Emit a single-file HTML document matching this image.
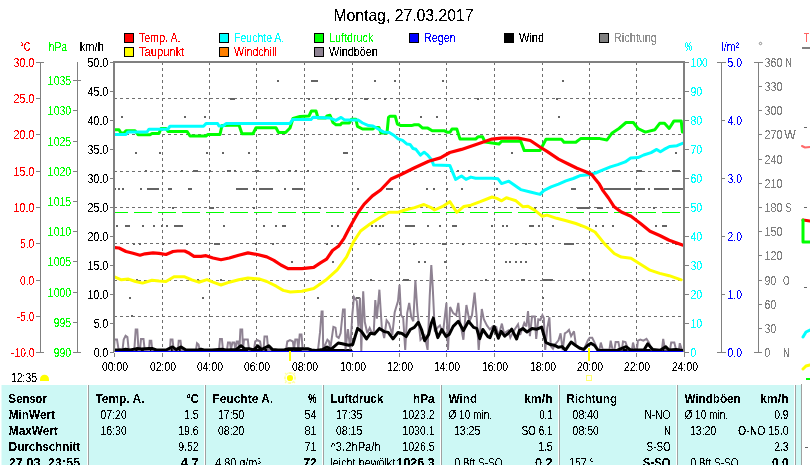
<!DOCTYPE html>
<html><head><meta charset="utf-8"><style>
html,body{margin:0;padding:0;background:#fff;overflow:hidden;width:810px;height:465px}
svg{display:block}
text{font-family:"Liberation Sans", sans-serif}
</style></head><body>
<svg width="810" height="465" viewBox="0 0 810 465">
<defs><filter id="bin" x="0" y="0" width="810" height="465" filterUnits="userSpaceOnUse"><feComponentTransfer><feFuncA type="discrete" tableValues="0 0 0 0 0 0 0 0 0 1 1 1 1 1 1 1 1 1 1 1"/></feComponentTransfer></filter><clipPath id="plotclip"><rect x="115" y="63" width="568" height="289"/></clipPath></defs>
<rect width="810" height="465" fill="#fff"/>
<text filter="url(#bin)" x="333.5" y="21.0" font-size="16.5" fill="#000" textLength="140.0" lengthAdjust="spacingAndGlyphs">Montag, 27.03.2017</text>
<rect x="124.5" y="33.5" width="9" height="9" fill="#ff0000" stroke="#000" stroke-width="1"/>
<text filter="url(#bin)" x="139.0" y="42.0" font-size="12.5" fill="#ff0000" textLength="41.5" lengthAdjust="spacingAndGlyphs">Temp. A.</text>
<rect x="219.5" y="33.5" width="9" height="9" fill="#00ffff" stroke="#000" stroke-width="1"/>
<text filter="url(#bin)" x="234.0" y="42.0" font-size="12.5" fill="#00ffff" textLength="50.3" lengthAdjust="spacingAndGlyphs">Feuchte A.</text>
<rect x="314.5" y="33.5" width="9" height="9" fill="#00ff00" stroke="#000" stroke-width="1"/>
<text filter="url(#bin)" x="329.0" y="42.0" font-size="12.5" fill="#00ff00" textLength="44.3" lengthAdjust="spacingAndGlyphs">Luftdruck</text>
<rect x="409.5" y="33.5" width="9" height="9" fill="#0000ff" stroke="#000" stroke-width="1"/>
<text filter="url(#bin)" x="424.0" y="42.0" font-size="12.5" fill="#0000ff" textLength="31.8" lengthAdjust="spacingAndGlyphs">Regen</text>
<rect x="504.5" y="33.5" width="9" height="9" fill="#000" stroke="#000" stroke-width="1"/>
<text filter="url(#bin)" x="519.0" y="42.0" font-size="12.5" fill="#000" textLength="25.1" lengthAdjust="spacingAndGlyphs">Wind</text>
<rect x="599.5" y="33.5" width="9" height="9" fill="#808080" stroke="#000" stroke-width="1"/>
<text filter="url(#bin)" x="614.0" y="42.0" font-size="12.5" fill="#909090" textLength="42.9" lengthAdjust="spacingAndGlyphs">Richtung</text>
<rect x="124.5" y="47.5" width="9" height="9" fill="#ffff00" stroke="#000" stroke-width="1"/>
<text filter="url(#bin)" x="139.0" y="56.0" font-size="12.5" fill="#ff0000" textLength="45.4" lengthAdjust="spacingAndGlyphs">Taupunkt</text>
<rect x="219.5" y="47.5" width="9" height="9" fill="#ff8000" stroke="#000" stroke-width="1"/>
<text filter="url(#bin)" x="234.0" y="56.0" font-size="12.5" fill="#ff0000" textLength="42.7" lengthAdjust="spacingAndGlyphs">Windchill</text>
<rect x="314.5" y="47.5" width="9" height="9" fill="#8e8292" stroke="#000" stroke-width="1"/>
<text filter="url(#bin)" x="329.0" y="56.0" font-size="12.5" fill="#000" textLength="48.9" lengthAdjust="spacingAndGlyphs">Windböen</text>
<text filter="url(#bin)" x="20.0" y="51.0" font-size="12.5" fill="#ff0000" textLength="10.4" lengthAdjust="spacingAndGlyphs">°C</text>
<text filter="url(#bin)" x="48.7" y="51.0" font-size="12.5" fill="#00ff00" textLength="18.4" lengthAdjust="spacingAndGlyphs">hPa</text>
<text filter="url(#bin)" x="79.8" y="51.0" font-size="12.5" fill="#000" textLength="24.1" lengthAdjust="spacingAndGlyphs">km/h</text>
<text filter="url(#bin)" x="684.8" y="51.0" font-size="13.5" fill="#00ffff" textLength="7.4" lengthAdjust="spacingAndGlyphs">%</text>
<text filter="url(#bin)" x="721.5" y="51.0" font-size="12.5" fill="#0000ff" textLength="17.8" lengthAdjust="spacingAndGlyphs">l/m²</text>
<circle cx="760.5" cy="43.5" r="1.2" fill="none" stroke="#808080" stroke-width="0.9"/>
<g stroke="#6e6e6e" stroke-width="1" shape-rendering="crispEdges">
<line x1="114" y1="98.5" x2="683" y2="98.5" stroke-dasharray="3 3"/>
<line x1="114" y1="134.5" x2="683" y2="134.5" stroke-dasharray="3 3"/>
<line x1="114" y1="171.5" x2="683" y2="171.5" stroke-dasharray="3 3"/>
<line x1="114" y1="207.5" x2="683" y2="207.5" stroke-dasharray="3 3"/>
<line x1="114" y1="243.5" x2="683" y2="243.5" stroke-dasharray="3 3"/>
<line x1="114" y1="280.5" x2="683" y2="280.5" stroke-dasharray="3 3"/>
<line x1="114" y1="316.5" x2="683" y2="316.5" stroke-dasharray="3 3"/>
<line x1="162.5" y1="62" x2="162.5" y2="352" stroke-dasharray="3 3"/>
<line x1="209.5" y1="62" x2="209.5" y2="352" stroke-dasharray="3 3"/>
<line x1="256.5" y1="62" x2="256.5" y2="352" stroke-dasharray="3 3"/>
<line x1="304.5" y1="62" x2="304.5" y2="352" stroke-dasharray="3 3"/>
<line x1="352.5" y1="62" x2="352.5" y2="352" stroke-dasharray="3 3"/>
<line x1="399.5" y1="62" x2="399.5" y2="352" stroke-dasharray="3 3"/>
<line x1="446.5" y1="62" x2="446.5" y2="352" stroke-dasharray="3 3"/>
<line x1="494.5" y1="62" x2="494.5" y2="352" stroke-dasharray="3 3"/>
<line x1="542.5" y1="62" x2="542.5" y2="352" stroke-dasharray="3 3"/>
<line x1="589.5" y1="62" x2="589.5" y2="352" stroke-dasharray="3 3"/>
<line x1="636.5" y1="62" x2="636.5" y2="352" stroke-dasharray="3 3"/>
</g>
<line x1="110" y1="212.5" x2="683" y2="212.5" stroke="#00ff00" stroke-width="1" stroke-dasharray="18 6" shape-rendering="crispEdges" clip-path="url(#plotclip)"/>
<g fill="#646464" clip-path="url(#plotclip)">
<rect x="277" y="80" width="2" height="2" fill="#646464"/>
<rect x="311" y="80" width="7" height="2" fill="#646464"/>
<rect x="374" y="80" width="2" height="2" fill="#646464"/>
<rect x="394" y="80" width="2" height="2" fill="#646464"/>
<rect x="442" y="80" width="2" height="2" fill="#646464"/>
<rect x="562" y="80" width="2" height="2" fill="#646464"/>
<rect x="230" y="98" width="5" height="2" fill="#646464"/>
<rect x="308" y="98" width="2" height="2" fill="#646464"/>
<rect x="335" y="98" width="2" height="2" fill="#646464"/>
<rect x="348" y="98" width="2" height="2" fill="#646464"/>
<rect x="364" y="98" width="4" height="2" fill="#646464"/>
<rect x="384" y="98" width="2" height="2" fill="#646464"/>
<rect x="477" y="98" width="2" height="2" fill="#646464"/>
<rect x="556" y="98" width="2" height="2" fill="#646464"/>
<rect x="121" y="116" width="2" height="2" fill="#646464"/>
<rect x="184" y="116" width="2" height="2" fill="#646464"/>
<rect x="204" y="116" width="2" height="2" fill="#646464"/>
<rect x="420" y="116" width="2" height="2" fill="#646464"/>
<rect x="436" y="116" width="2" height="2" fill="#646464"/>
<rect x="558" y="116" width="2" height="2" fill="#646464"/>
<rect x="135" y="152" width="2" height="2" fill="#646464"/>
<rect x="159" y="152" width="2" height="2" fill="#646464"/>
<rect x="206" y="152" width="2" height="2" fill="#646464"/>
<rect x="222" y="152" width="2" height="2" fill="#646464"/>
<rect x="248" y="152" width="2" height="2" fill="#646464"/>
<rect x="343" y="152" width="5" height="2" fill="#646464"/>
<rect x="511" y="152" width="2" height="2" fill="#646464"/>
<rect x="675" y="152" width="2" height="2" fill="#646464"/>
<rect x="145" y="170" width="2" height="2" fill="#646464"/>
<rect x="162" y="170" width="2" height="2" fill="#646464"/>
<rect x="181" y="170" width="2" height="2" fill="#646464"/>
<rect x="193" y="170" width="5" height="2" fill="#646464"/>
<rect x="209" y="170" width="2" height="2" fill="#646464"/>
<rect x="227" y="170" width="4" height="2" fill="#646464"/>
<rect x="234" y="170" width="2" height="2" fill="#646464"/>
<rect x="255" y="170" width="4" height="2" fill="#646464"/>
<rect x="278" y="170" width="2" height="2" fill="#646464"/>
<rect x="288" y="170" width="3" height="2" fill="#646464"/>
<rect x="295" y="170" width="2" height="2" fill="#646464"/>
<rect x="307" y="170" width="2" height="2" fill="#646464"/>
<rect x="457" y="170" width="2" height="2" fill="#646464"/>
<rect x="468" y="170" width="2" height="2" fill="#646464"/>
<rect x="637" y="170" width="5" height="2" fill="#646464"/>
<rect x="672" y="170" width="8" height="2" fill="#646464"/>
<rect x="114" y="188" width="2" height="2" fill="#646464"/>
<rect x="118" y="188" width="2" height="2" fill="#646464"/>
<rect x="122" y="188" width="2" height="2" fill="#646464"/>
<rect x="140" y="188" width="2" height="2" fill="#646464"/>
<rect x="147" y="188" width="12" height="2" fill="#646464"/>
<rect x="168" y="188" width="4" height="2" fill="#646464"/>
<rect x="188" y="188" width="4" height="2" fill="#646464"/>
<rect x="236" y="188" width="12" height="2" fill="#646464"/>
<rect x="253" y="188" width="2" height="2" fill="#646464"/>
<rect x="259" y="188" width="14" height="2" fill="#646464"/>
<rect x="284" y="188" width="2" height="2" fill="#646464"/>
<rect x="292" y="188" width="11" height="2" fill="#646464"/>
<rect x="357" y="188" width="2" height="2" fill="#646464"/>
<rect x="386" y="188" width="7" height="2" fill="#646464"/>
<rect x="426" y="188" width="2" height="2" fill="#646464"/>
<rect x="433" y="188" width="2" height="2" fill="#646464"/>
<rect x="446" y="188" width="2" height="2" fill="#646464"/>
<rect x="461" y="188" width="2" height="2" fill="#646464"/>
<rect x="496" y="188" width="2" height="2" fill="#646464"/>
<rect x="571" y="188" width="5" height="2" fill="#646464"/>
<rect x="590" y="188" width="3" height="2" fill="#646464"/>
<rect x="604" y="188" width="27" height="2" fill="#646464"/>
<rect x="634" y="188" width="11" height="2" fill="#646464"/>
<rect x="648" y="188" width="2" height="2" fill="#646464"/>
<rect x="654" y="188" width="15" height="2" fill="#646464"/>
<rect x="672" y="188" width="11" height="2" fill="#646464"/>
<rect x="172" y="207" width="2" height="2" fill="#646464"/>
<rect x="209" y="207" width="5" height="2" fill="#646464"/>
<rect x="253" y="207" width="2" height="2" fill="#646464"/>
<rect x="319" y="207" width="2" height="2" fill="#646464"/>
<rect x="534" y="207" width="2" height="2" fill="#646464"/>
<rect x="577" y="207" width="12" height="2" fill="#646464"/>
<rect x="597" y="207" width="6" height="2" fill="#646464"/>
<rect x="653" y="207" width="2" height="2" fill="#646464"/>
<rect x="116" y="225" width="2" height="2" fill="#646464"/>
<rect x="125" y="225" width="5" height="2" fill="#646464"/>
<rect x="142" y="225" width="2" height="2" fill="#646464"/>
<rect x="153" y="225" width="2" height="2" fill="#646464"/>
<rect x="161" y="225" width="2" height="2" fill="#646464"/>
<rect x="166" y="225" width="2" height="2" fill="#646464"/>
<rect x="174" y="225" width="9" height="2" fill="#646464"/>
<rect x="223" y="225" width="2" height="2" fill="#646464"/>
<rect x="263" y="225" width="2" height="2" fill="#646464"/>
<rect x="275" y="225" width="2" height="2" fill="#646464"/>
<rect x="282" y="225" width="4" height="2" fill="#646464"/>
<rect x="331" y="225" width="2" height="2" fill="#646464"/>
<rect x="337" y="225" width="2" height="2" fill="#646464"/>
<rect x="371" y="225" width="2" height="2" fill="#646464"/>
<rect x="375" y="225" width="2" height="2" fill="#646464"/>
<rect x="379" y="225" width="2" height="2" fill="#646464"/>
<rect x="382" y="225" width="2" height="2" fill="#646464"/>
<rect x="405" y="225" width="10" height="2" fill="#646464"/>
<rect x="427" y="225" width="2" height="2" fill="#646464"/>
<rect x="439" y="225" width="2" height="2" fill="#646464"/>
<rect x="452" y="225" width="5" height="2" fill="#646464"/>
<rect x="491" y="225" width="2" height="2" fill="#646464"/>
<rect x="502" y="225" width="2" height="2" fill="#646464"/>
<rect x="506" y="225" width="2" height="2" fill="#646464"/>
<rect x="529" y="225" width="5" height="2" fill="#646464"/>
<rect x="538" y="225" width="2" height="2" fill="#646464"/>
<rect x="552" y="225" width="2" height="2" fill="#646464"/>
<rect x="580" y="225" width="2" height="2" fill="#646464"/>
<rect x="595" y="225" width="2" height="2" fill="#646464"/>
<rect x="602" y="225" width="2" height="2" fill="#646464"/>
<rect x="612" y="225" width="2" height="2" fill="#646464"/>
<rect x="655" y="225" width="2" height="2" fill="#646464"/>
<rect x="662" y="225" width="5" height="2" fill="#646464"/>
<rect x="133" y="243" width="2" height="2" fill="#646464"/>
<rect x="139" y="243" width="2" height="2" fill="#646464"/>
<rect x="162" y="243" width="2" height="2" fill="#646464"/>
<rect x="186" y="243" width="2" height="2" fill="#646464"/>
<rect x="214" y="243" width="6" height="2" fill="#646464"/>
<rect x="255" y="243" width="2" height="2" fill="#646464"/>
<rect x="272" y="243" width="2" height="2" fill="#646464"/>
<rect x="326" y="243" width="2" height="2" fill="#646464"/>
<rect x="378" y="243" width="2" height="2" fill="#646464"/>
<rect x="413" y="243" width="2" height="2" fill="#646464"/>
<rect x="442" y="243" width="4" height="2" fill="#646464"/>
<rect x="462" y="243" width="2" height="2" fill="#646464"/>
<rect x="498" y="243" width="2" height="2" fill="#646464"/>
<rect x="515" y="243" width="2" height="2" fill="#646464"/>
<rect x="525" y="243" width="2" height="2" fill="#646464"/>
<rect x="535" y="243" width="2" height="2" fill="#646464"/>
<rect x="564" y="243" width="10" height="2" fill="#646464"/>
<rect x="635" y="243" width="2" height="2" fill="#646464"/>
<rect x="675" y="243" width="5" height="2" fill="#646464"/>
<rect x="291" y="261" width="2" height="2" fill="#646464"/>
<rect x="332" y="261" width="2" height="2" fill="#646464"/>
<rect x="418" y="261" width="2" height="2" fill="#646464"/>
<rect x="424" y="261" width="2" height="2" fill="#646464"/>
<rect x="444" y="261" width="2" height="2" fill="#646464"/>
<rect x="505" y="261" width="2" height="2" fill="#646464"/>
<rect x="509" y="261" width="2" height="2" fill="#646464"/>
<rect x="515" y="261" width="2" height="2" fill="#646464"/>
<rect x="520" y="261" width="2" height="2" fill="#646464"/>
<rect x="525" y="261" width="2" height="2" fill="#646464"/>
<rect x="136" y="279" width="2" height="2" fill="#646464"/>
<rect x="197" y="279" width="2" height="2" fill="#646464"/>
<rect x="220" y="279" width="2" height="2" fill="#646464"/>
<rect x="370" y="279" width="2" height="2" fill="#646464"/>
<rect x="403" y="279" width="6" height="2" fill="#646464"/>
<rect x="485" y="279" width="2" height="2" fill="#646464"/>
<rect x="521" y="279" width="4" height="2" fill="#646464"/>
<rect x="543" y="279" width="10" height="2" fill="#646464"/>
<rect x="582" y="279" width="2" height="2" fill="#646464"/>
<rect x="129" y="297" width="2" height="2" fill="#646464"/>
<rect x="202" y="297" width="2" height="2" fill="#646464"/>
<rect x="317" y="297" width="2" height="2" fill="#646464"/>
<rect x="356" y="297" width="4" height="2" fill="#646464"/>
<rect x="542" y="297" width="2" height="2" fill="#646464"/>
<rect x="131" y="315" width="2" height="2" fill="#646464"/>
</g>
<rect x="114" y="349" width="16" height="2" fill="#000"/>
<rect x="134" y="349" width="78" height="2" fill="#000"/>
<rect x="218" y="349" width="56" height="2" fill="#000"/>
<rect x="279" y="349" width="73" height="2" fill="#000"/>
<rect x="597" y="349" width="87" height="2" fill="#000"/>
<g clip-path="url(#plotclip)">
<polyline points="114.0,350.0 114.5,339.5 117.0,339.5 118.5,349.0 122.5,350.0 123.7,339.5 125.6,335.8 127.4,337.0 128.7,350.0 134.3,350.0 135.7,329.6 137.3,329.6 138.5,350.0 140.0,350.0 141.0,338.9 143.5,338.9 144.7,350.0 149.0,350.0 149.7,340.7 151.3,340.7 152.2,350.0 170.0,350.0 170.6,339.5 172.5,339.5 173.7,350.0 178.0,350.0 178.7,340.7 180.5,340.7 181.7,350.0 196.0,350.0 197.0,343.2 198.5,344.5 199.7,350.0 219.0,350.0 220.0,338.9 221.9,338.9 223.0,350.0 227.0,350.0 228.0,342.6 229.9,342.6 231.0,349.0 232.4,342.6 234.2,342.6 235.4,349.0 236.7,341.4 238.0,341.4 239.4,349.0 240.4,329.6 242.2,329.6 243.0,349.0 244.0,339.5 247.8,339.5 249.0,350.0 254.0,350.0 255.2,341.5 257.5,340.2 260.1,341.5 261.4,350.0 263.5,350.0 264.5,336.4 267.0,336.4 268.2,350.0 286.0,350.0 287.3,341.5 290.0,340.2 292.9,341.5 294.0,350.0 295.3,339.5 297.2,339.5 298.4,349.0 299.7,334.6 301.5,334.6 302.7,350.0 318.0,350.0 320.0,332.4 321.6,311.5 322.6,311.5 323.2,349.4 327.4,339.7 329.0,341.3 330.2,349.4 333.4,326.8 335.5,327.6 336.6,336.5 338.7,338.0 340.6,333.2 343.0,309.4 344.7,309.4 345.5,349.4 347.9,329.2 350.3,349.4 352.3,314.7 354.0,297.0 356.8,301.0 358.4,326.8 360.0,297.7 361.3,351.0 363.2,291.3 364.8,322.0 367.3,333.2 369.7,328.0 371.3,331.6 373.7,333.2 375.3,300.0 376.9,318.7 379.4,289.7 380.6,309.0 381.8,327.6 384.2,338.0 386.6,320.3 389.0,323.5 392.3,334.8 394.7,312.3 398.0,301.0 399.5,284.8 401.0,315.2 403.2,318.0 405.2,349.9 407.2,313.1 409.2,302.9 411.3,317.2 413.3,321.3 415.4,280.4 417.4,311.0 420.5,339.7 424.6,335.6 427.6,349.9 429.7,296.8 431.3,265.1 432.7,286.6 434.8,331.5 437.8,327.4 439.9,325.4 442.9,333.5 446.4,302.9 448.0,349.9 450.1,307.0 453.2,313.1 456.2,315.2 458.3,302.9 460.3,323.3 463.4,339.7 466.4,305.0 469.5,321.3 472.0,315.2 474.6,292.7 476.7,317.2 478.7,349.9 481.8,309.0 483.8,319.2 486.9,325.4 489.9,329.5 492.8,326.4 496.3,327.0 498.4,336.2 501.9,323.6 504.0,333.4 508.2,330.6 510.3,337.6 513.1,332.0 518.0,324.3 520.1,334.8 524.3,322.9 526.4,326.4 528.0,311.0 529.9,336.2 532.0,316.6 534.8,316.6 536.2,339.0 538.3,319.4 540.4,320.0 542.4,315.2 543.8,318.0 545.2,350.0 547.3,327.8 549.4,317.3 550.8,346.0 553.0,348.7 555.0,344.5 558.5,340.3 560.6,333.4 562.7,350.0 564.8,333.4 567.0,332.0 569.0,329.9 571.1,336.2 574.0,331.3 576.0,346.0 579.5,348.7 583.7,350.0 587.9,340.3 589.7,337.7 592.2,337.7 594.6,342.6 597.7,349.4 599.5,349.4 600.8,342.6 602.7,349.4 609.5,349.4 610.7,340.7 612.5,349.4 614.5,349.4 615.6,342.0 618.4,342.0 619.9,349.4 622.0,349.4 623.0,341.4 625.5,342.0 628.0,349.4 632.0,349.4 633.0,342.6 634.8,349.4 637.0,349.4 637.9,340.7 640.3,339.5 643.4,340.7 646.5,338.9 649.0,342.6 651.4,349.4 662.0,349.4 663.2,338.9 665.0,349.4 670.0,349.4 671.2,342.6 674.3,342.6 676.0,349.4 679.0,349.4 679.8,343.2 681.7,349.4 683.0,350.0" fill="none" stroke="#8e8292" stroke-width="2" stroke-linejoin="miter" stroke-linecap="butt" stroke-miterlimit="3"/>
<polyline points="114.0,350.0 122.0,350.0 125.6,349.2 130.0,350.0 136.7,348.6 141.6,349.0 149.0,348.6 152.7,348.6 156.4,350.0 166.0,350.0 172.5,346.9 176.2,349.6 181.1,346.9 186.0,350.0 198.0,350.0 200.9,349.2 204.0,350.0 212.0,350.0 221.9,349.2 226.0,350.0 236.0,349.6 241.0,345.7 244.7,348.8 249.0,348.8 254.0,350.0 257.7,345.9 261.4,349.6 268.8,345.9 272.5,349.6 278.0,350.0 284.0,350.0 288.5,348.8 298.4,348.8 308.3,348.8 311.4,350.0 316.0,350.5 322.9,349.4 327.0,347.0 331.0,349.4 338.2,343.0 342.3,343.7 348.7,345.3 352.7,344.5 357.6,328.4 361.6,331.6 366.5,338.9 370.5,333.2 374.5,334.0 379.4,328.4 384.2,331.6 388.2,332.4 393.0,338.9 398.0,332.5 402.0,333.5 406.2,336.6 410.3,329.5 414.3,327.4 418.4,322.3 421.5,329.5 424.6,340.7 428.6,334.6 431.3,323.3 433.3,318.2 435.8,330.5 437.8,337.6 441.9,329.5 446.0,336.6 449.1,334.6 453.2,326.4 458.3,321.3 463.4,330.5 468.5,321.3 473.6,327.4 476.7,328.4 479.7,338.7 482.8,329.5 487.9,336.6 490.0,337.6 494.2,326.6 496.3,332.7 498.4,338.3 501.2,331.3 504.7,336.2 508.2,333.4 511.7,329.2 513.8,333.4 516.6,339.0 519.4,330.6 522.9,328.5 527.0,332.0 532.0,328.5 536.9,329.2 541.7,327.1 543.8,334.8 545.9,342.4 550.1,344.5 554.3,345.2 558.5,347.3 562.0,346.6 565.5,350.1 571.1,342.0 575.3,345.2 579.5,348.0 583.7,349.4 587.9,345.2 591.0,343.2 594.6,345.5 597.7,350.0 600.0,350.4 617.0,350.4 620.6,348.8 626.1,346.7 630.4,350.0 644.0,350.0 647.7,343.8 652.7,349.4 660.0,350.4 665.6,346.7 669.0,350.0 676.0,349.4 683.0,350.4" fill="none" stroke="#000" stroke-width="3" stroke-linejoin="round" stroke-linecap="round"/>
</g>
<rect x="114" y="351" width="570" height="1" fill="#0000ff"/>
<g clip-path="url(#plotclip)">
<polyline points="114.3,276.8 121.4,279.8 128.4,279.1 135.5,281.5 142.5,283.1 152.0,280.3 159.0,281.0 166.0,281.5 174.0,276.8 184.7,276.8 191.8,279.8 198.8,282.2 207.0,279.6 213.0,282.2 221.0,285.0 229.3,282.2 238.7,279.8 248.0,278.0 259.8,279.1 266.8,281.5 276.2,286.2 283.2,290.4 290.3,292.0 302.0,291.3 313.7,288.5 325.5,280.3 337.2,269.8 346.6,256.9 353.6,241.6 360.6,231.0 370.0,224.0 379.4,218.1 388.8,212.3 398.2,212.3 405.2,210.0 414.6,207.6 424.0,204.5 431.0,207.6 434.5,210.0 442.7,206.4 449.8,201.7 456.8,212.3 463.9,206.4 470.9,205.2 480.3,201.7 492.0,197.0 496.8,198.4 501.6,200.8 506.4,197.7 516.0,200.8 523.0,206.8 528.0,206.3 535.0,210.4 542.3,216.3 547.0,215.1 556.7,218.3 566.3,220.7 575.8,223.5 585.4,227.1 595.0,232.0 604.6,243.9 614.2,253.5 621.3,257.1 631.0,258.3 640.5,264.3 650.0,270.2 659.7,273.4 669.2,275.7 681.2,279.8" fill="none" stroke="#ffff00" stroke-width="3" stroke-linejoin="round" stroke-linecap="round"/>
<polyline points="114.0,129.7 119.0,129.7 121.0,133.0 124.0,133.0 126.0,130.7 135.0,130.7 138.0,134.7 150.0,134.7 152.0,133.4 159.0,133.4 161.0,128.5 166.0,128.5 168.0,131.4 187.0,131.4 190.0,136.0 206.0,136.0 208.0,134.4 220.0,134.4 222.0,125.5 239.0,125.0 242.0,133.7 253.0,133.7 256.0,127.8 276.0,127.8 278.5,132.5 285.6,132.5 290.0,128.0 293.0,118.5 300.0,116.5 309.0,116.0 311.4,111.0 316.0,111.0 318.0,118.0 325.5,118.0 327.0,116.0 330.0,115.2 333.0,122.6 336.0,124.8 340.4,124.8 341.9,123.0 349.3,123.0 351.5,119.2 355.9,119.2 357.4,126.3 362.6,129.0 373.0,129.0 374.4,127.5 378.9,127.5 381.0,133.0 387.0,133.0 388.5,117.4 390.0,116.2 395.2,116.2 397.4,124.1 401.0,125.6 411.5,125.6 414.4,124.8 418.9,124.8 422.6,128.1 427.8,128.1 432.2,130.7 444.0,130.7 447.0,132.2 450.0,132.2 452.0,129.0 456.8,129.0 460.0,139.1 475.6,139.1 478.0,136.8 482.6,136.8 485.0,142.0 492.0,143.0 499.0,144.1 501.6,141.2 520.7,141.2 524.3,150.6 540.0,150.6 546.0,139.3 561.5,139.3 564.0,142.2 575.8,142.2 580.6,138.6 599.8,138.6 607.0,140.0 611.8,133.3 619.0,128.5 626.0,122.5 633.3,122.5 638.0,128.5 645.3,132.1 654.9,129.7 659.7,123.3 664.5,123.3 669.2,128.5 674.0,120.9 681.2,120.9 682.4,132.0" fill="none" stroke="#00ff00" stroke-width="3" stroke-linejoin="round" stroke-linecap="round"/>
<polyline points="114.0,134.4 126.0,134.4 128.0,132.0 147.0,132.0 149.0,129.2 168.0,129.2 170.0,126.2 203.5,126.2 206.0,123.6 217.6,123.6 219.0,126.0 223.0,126.0 226.0,123.6 290.0,123.6 292.6,119.6 311.0,119.6 313.0,117.3 330.0,118.1 335.9,120.4 341.1,117.4 344.8,120.1 358.1,120.1 362.6,123.0 368.5,125.6 373.0,126.0 377.4,128.5 383.3,131.9 389.3,132.5 393.7,135.2 398.1,138.9 402.6,140.4 407.0,144.1 410.0,144.4 413.0,148.5 415.9,149.3 420.4,155.2 424.1,152.2 427.8,155.2 431.5,159.6 433.7,165.1 449.8,165.4 455.6,179.4 461.5,176.0 466.0,179.4 470.9,177.1 475.6,178.3 492.0,178.3 498.0,178.8 501.6,183.6 508.8,181.2 520.7,189.6 530.3,192.0 540.0,194.4 543.7,190.6 551.1,186.9 558.5,184.1 565.9,180.9 573.3,178.5 580.7,175.4 588.1,174.8 595.6,173.0 603.0,169.8 610.4,166.9 617.8,164.6 625.2,161.9 630.7,158.1 638.1,157.6 643.7,155.0 651.1,152.6 656.7,149.4 660.4,151.7 664.1,149.4 669.6,146.5 677.0,145.7 682.6,143.3" fill="none" stroke="#00ffff" stroke-width="3" stroke-linejoin="round" stroke-linecap="round"/>
<polyline points="114.3,247.5 119.0,248.0 126.0,251.5 133.0,253.3 140.0,255.2 145.0,253.8 153.0,252.9 159.0,253.3 166.0,254.5 173.0,251.5 177.7,251.0 184.7,251.0 189.4,253.3 194.0,256.4 201.0,256.4 206.0,255.7 213.0,258.0 221.0,259.7 229.3,258.0 238.7,255.2 248.0,252.9 257.4,254.5 266.8,256.9 273.9,260.4 280.9,265.0 288.0,268.6 302.0,268.6 313.7,267.4 320.8,262.7 326.6,259.2 332.5,250.5 338.4,246.3 344.2,238.1 349.0,228.7 353.6,220.5 358.3,212.3 364.2,204.1 372.4,195.9 380.6,190.0 391.0,179.0 400.5,174.8 414.6,167.7 428.7,161.2 440.4,157.9 449.8,152.5 461.5,149.4 473.2,145.4 492.0,139.1 501.6,138.1 518.3,138.1 530.3,140.5 540.0,147.0 547.4,151.7 558.5,159.1 567.8,163.7 577.0,168.3 586.3,172.0 591.9,174.8 595.6,179.4 599.3,184.1 603.0,190.6 608.5,198.0 614.2,206.8 621.3,212.0 631.0,216.3 640.5,223.5 650.0,231.2 659.7,235.5 669.2,240.3 682.4,245.1" fill="none" stroke="#ff0000" stroke-width="3.2" stroke-linejoin="round" stroke-linecap="round"/>
</g>
<rect x="113" y="61" width="2" height="291" fill="#808080"/>
<rect x="113" y="61" width="572" height="2" fill="#808080"/>
<rect x="683" y="61" width="2" height="291" fill="#808080"/>
<rect x="684" y="352" width="1" height="5" fill="#808080"/>
<rect x="114" y="352" width="1" height="0" fill="#808080"/>
<rect x="114" y="353" width="1" height="4" fill="#808080"/>
<text filter="url(#bin)" x="102.0" y="371.0" font-size="12.5" fill="#000" textLength="26.0" lengthAdjust="spacingAndGlyphs">00:00</text>
<rect x="162" y="353" width="1" height="4" fill="#808080"/>
<text filter="url(#bin)" x="150.0" y="371.0" font-size="12.5" fill="#000" textLength="26.0" lengthAdjust="spacingAndGlyphs">02:00</text>
<rect x="209" y="353" width="1" height="4" fill="#808080"/>
<text filter="url(#bin)" x="197.0" y="371.0" font-size="12.5" fill="#000" textLength="26.0" lengthAdjust="spacingAndGlyphs">04:00</text>
<rect x="256" y="353" width="1" height="4" fill="#808080"/>
<text filter="url(#bin)" x="244.0" y="371.0" font-size="12.5" fill="#000" textLength="26.0" lengthAdjust="spacingAndGlyphs">06:00</text>
<rect x="304" y="353" width="1" height="4" fill="#808080"/>
<text filter="url(#bin)" x="292.0" y="371.0" font-size="12.5" fill="#000" textLength="26.0" lengthAdjust="spacingAndGlyphs">08:00</text>
<rect x="352" y="353" width="1" height="4" fill="#808080"/>
<text filter="url(#bin)" x="340.0" y="371.0" font-size="12.5" fill="#000" textLength="26.0" lengthAdjust="spacingAndGlyphs">10:00</text>
<rect x="399" y="353" width="1" height="4" fill="#808080"/>
<text filter="url(#bin)" x="387.0" y="371.0" font-size="12.5" fill="#000" textLength="26.0" lengthAdjust="spacingAndGlyphs">12:00</text>
<rect x="446" y="353" width="1" height="4" fill="#808080"/>
<text filter="url(#bin)" x="434.0" y="371.0" font-size="12.5" fill="#000" textLength="26.0" lengthAdjust="spacingAndGlyphs">14:00</text>
<rect x="494" y="353" width="1" height="4" fill="#808080"/>
<text filter="url(#bin)" x="482.0" y="371.0" font-size="12.5" fill="#000" textLength="26.0" lengthAdjust="spacingAndGlyphs">16:00</text>
<rect x="542" y="353" width="1" height="4" fill="#808080"/>
<text filter="url(#bin)" x="530.0" y="371.0" font-size="12.5" fill="#000" textLength="26.0" lengthAdjust="spacingAndGlyphs">18:00</text>
<rect x="589" y="353" width="1" height="4" fill="#808080"/>
<text filter="url(#bin)" x="577.0" y="371.0" font-size="12.5" fill="#000" textLength="26.0" lengthAdjust="spacingAndGlyphs">20:00</text>
<rect x="636" y="353" width="1" height="4" fill="#808080"/>
<text filter="url(#bin)" x="624.0" y="371.0" font-size="12.5" fill="#000" textLength="26.0" lengthAdjust="spacingAndGlyphs">22:00</text>
<rect x="684" y="353" width="1" height="4" fill="#808080"/>
<text filter="url(#bin)" x="672.0" y="371.0" font-size="12.5" fill="#000" textLength="26.0" lengthAdjust="spacingAndGlyphs">24:00</text>
<rect x="40" y="62" width="1" height="291" fill="#808080"/>
<rect x="36" y="62" width="8" height="1" fill="#808080"/>
<rect x="36" y="352" width="8" height="1" fill="#808080"/>
<text filter="url(#bin)" x="34.4" y="67.0" font-size="12.5" fill="#ff0000" textLength="20.8" lengthAdjust="spacingAndGlyphs" text-anchor="end">30.0</text>
<rect x="36" y="98" width="4" height="1" fill="#808080"/>
<text filter="url(#bin)" x="34.4" y="103.0" font-size="12.5" fill="#ff0000" textLength="20.8" lengthAdjust="spacingAndGlyphs" text-anchor="end">25.0</text>
<rect x="36" y="134" width="4" height="1" fill="#808080"/>
<text filter="url(#bin)" x="34.4" y="139.0" font-size="12.5" fill="#ff0000" textLength="20.8" lengthAdjust="spacingAndGlyphs" text-anchor="end">20.0</text>
<rect x="36" y="171" width="4" height="1" fill="#808080"/>
<text filter="url(#bin)" x="34.4" y="176.0" font-size="12.5" fill="#ff0000" textLength="20.8" lengthAdjust="spacingAndGlyphs" text-anchor="end">15.0</text>
<rect x="36" y="207" width="4" height="1" fill="#808080"/>
<text filter="url(#bin)" x="34.4" y="212.0" font-size="12.5" fill="#ff0000" textLength="20.8" lengthAdjust="spacingAndGlyphs" text-anchor="end">10.0</text>
<rect x="36" y="243" width="4" height="1" fill="#808080"/>
<text filter="url(#bin)" x="34.4" y="248.0" font-size="12.5" fill="#ff0000" textLength="14.5" lengthAdjust="spacingAndGlyphs" text-anchor="end">5.0</text>
<rect x="36" y="280" width="4" height="1" fill="#808080"/>
<text filter="url(#bin)" x="34.4" y="285.0" font-size="12.5" fill="#ff0000" textLength="14.5" lengthAdjust="spacingAndGlyphs" text-anchor="end">0.0</text>
<rect x="36" y="316" width="4" height="1" fill="#808080"/>
<text filter="url(#bin)" x="34.4" y="321.0" font-size="12.5" fill="#ff0000" textLength="17.4" lengthAdjust="spacingAndGlyphs" text-anchor="end">-5.0</text>
<text filter="url(#bin)" x="34.4" y="357.0" font-size="12.5" fill="#ff0000" textLength="23.3" lengthAdjust="spacingAndGlyphs" text-anchor="end">-10.0</text>
<rect x="77" y="62" width="1" height="291" fill="#808080"/>
<rect x="73" y="352" width="8" height="1" fill="#808080"/>
<rect x="73" y="80" width="8" height="1" fill="#808080"/>
<text filter="url(#bin)" x="71.2" y="85.0" font-size="12.5" fill="#00ff00" textLength="23.4" lengthAdjust="spacingAndGlyphs" text-anchor="end">1035</text>
<rect x="73" y="110" width="4" height="1" fill="#808080"/>
<text filter="url(#bin)" x="71.2" y="115.0" font-size="12.5" fill="#00ff00" textLength="23.4" lengthAdjust="spacingAndGlyphs" text-anchor="end">1030</text>
<rect x="73" y="141" width="4" height="1" fill="#808080"/>
<text filter="url(#bin)" x="71.2" y="146.0" font-size="12.5" fill="#00ff00" textLength="23.4" lengthAdjust="spacingAndGlyphs" text-anchor="end">1025</text>
<rect x="73" y="171" width="4" height="1" fill="#808080"/>
<text filter="url(#bin)" x="71.2" y="176.0" font-size="12.5" fill="#00ff00" textLength="23.4" lengthAdjust="spacingAndGlyphs" text-anchor="end">1020</text>
<rect x="73" y="201" width="4" height="1" fill="#808080"/>
<text filter="url(#bin)" x="71.2" y="206.0" font-size="12.5" fill="#00ff00" textLength="23.4" lengthAdjust="spacingAndGlyphs" text-anchor="end">1015</text>
<rect x="73" y="231" width="4" height="1" fill="#808080"/>
<text filter="url(#bin)" x="71.2" y="236.0" font-size="12.5" fill="#00ff00" textLength="23.4" lengthAdjust="spacingAndGlyphs" text-anchor="end">1010</text>
<rect x="73" y="261" width="4" height="1" fill="#808080"/>
<text filter="url(#bin)" x="71.2" y="266.0" font-size="12.5" fill="#00ff00" textLength="23.4" lengthAdjust="spacingAndGlyphs" text-anchor="end">1005</text>
<rect x="73" y="292" width="4" height="1" fill="#808080"/>
<text filter="url(#bin)" x="71.2" y="297.0" font-size="12.5" fill="#00ff00" textLength="23.4" lengthAdjust="spacingAndGlyphs" text-anchor="end">1000</text>
<rect x="73" y="322" width="4" height="1" fill="#808080"/>
<text filter="url(#bin)" x="71.2" y="327.0" font-size="12.5" fill="#00ff00" textLength="17.5" lengthAdjust="spacingAndGlyphs" text-anchor="end">995</text>
<text filter="url(#bin)" x="71.2" y="357.0" font-size="12.5" fill="#00ff00" textLength="17.5" lengthAdjust="spacingAndGlyphs" text-anchor="end">990</text>
<rect x="110" y="62" width="3" height="1" fill="#808080"/>
<text filter="url(#bin)" x="108.3" y="67.0" font-size="12.5" fill="#000" textLength="20.8" lengthAdjust="spacingAndGlyphs" text-anchor="end">50.0</text>
<rect x="110" y="91" width="3" height="1" fill="#808080"/>
<text filter="url(#bin)" x="108.3" y="96.0" font-size="12.5" fill="#000" textLength="20.8" lengthAdjust="spacingAndGlyphs" text-anchor="end">45.0</text>
<rect x="110" y="120" width="3" height="1" fill="#808080"/>
<text filter="url(#bin)" x="108.3" y="125.0" font-size="12.5" fill="#000" textLength="20.8" lengthAdjust="spacingAndGlyphs" text-anchor="end">40.0</text>
<rect x="110" y="149" width="3" height="1" fill="#808080"/>
<text filter="url(#bin)" x="108.3" y="154.0" font-size="12.5" fill="#000" textLength="20.8" lengthAdjust="spacingAndGlyphs" text-anchor="end">35.0</text>
<rect x="110" y="178" width="3" height="1" fill="#808080"/>
<text filter="url(#bin)" x="108.3" y="183.0" font-size="12.5" fill="#000" textLength="20.8" lengthAdjust="spacingAndGlyphs" text-anchor="end">30.0</text>
<rect x="110" y="207" width="3" height="1" fill="#808080"/>
<text filter="url(#bin)" x="108.3" y="212.0" font-size="12.5" fill="#000" textLength="20.8" lengthAdjust="spacingAndGlyphs" text-anchor="end">25.0</text>
<rect x="110" y="236" width="3" height="1" fill="#808080"/>
<text filter="url(#bin)" x="108.3" y="241.0" font-size="12.5" fill="#000" textLength="20.8" lengthAdjust="spacingAndGlyphs" text-anchor="end">20.0</text>
<rect x="110" y="265" width="3" height="1" fill="#808080"/>
<text filter="url(#bin)" x="108.3" y="270.0" font-size="12.5" fill="#000" textLength="20.8" lengthAdjust="spacingAndGlyphs" text-anchor="end">15.0</text>
<rect x="110" y="294" width="3" height="1" fill="#808080"/>
<text filter="url(#bin)" x="108.3" y="299.0" font-size="12.5" fill="#000" textLength="20.8" lengthAdjust="spacingAndGlyphs" text-anchor="end">10.0</text>
<rect x="110" y="323" width="3" height="1" fill="#808080"/>
<text filter="url(#bin)" x="108.3" y="328.0" font-size="12.5" fill="#000" textLength="14.5" lengthAdjust="spacingAndGlyphs" text-anchor="end">5.0</text>
<rect x="110" y="352" width="3" height="1" fill="#808080"/>
<text filter="url(#bin)" x="108.3" y="357.0" font-size="12.5" fill="#000" textLength="14.5" lengthAdjust="spacingAndGlyphs" text-anchor="end">0.0</text>
<rect x="110" y="352" width="4" height="1" fill="#808080"/>
<rect x="685" y="62" width="4" height="1" fill="#808080"/>
<text filter="url(#bin)" x="690.4" y="67.0" font-size="12.5" fill="#00ffff" textLength="17.5" lengthAdjust="spacingAndGlyphs">100</text>
<rect x="685" y="91" width="4" height="1" fill="#808080"/>
<text filter="url(#bin)" x="690.4" y="96.0" font-size="12.5" fill="#00ffff" textLength="11.7" lengthAdjust="spacingAndGlyphs">90</text>
<rect x="685" y="120" width="4" height="1" fill="#808080"/>
<text filter="url(#bin)" x="690.4" y="125.0" font-size="12.5" fill="#00ffff" textLength="11.7" lengthAdjust="spacingAndGlyphs">80</text>
<rect x="685" y="149" width="4" height="1" fill="#808080"/>
<text filter="url(#bin)" x="690.4" y="154.0" font-size="12.5" fill="#00ffff" textLength="11.7" lengthAdjust="spacingAndGlyphs">70</text>
<rect x="685" y="178" width="4" height="1" fill="#808080"/>
<text filter="url(#bin)" x="690.4" y="183.0" font-size="12.5" fill="#00ffff" textLength="11.7" lengthAdjust="spacingAndGlyphs">60</text>
<rect x="685" y="207" width="4" height="1" fill="#808080"/>
<text filter="url(#bin)" x="690.4" y="212.0" font-size="12.5" fill="#00ffff" textLength="11.7" lengthAdjust="spacingAndGlyphs">50</text>
<rect x="685" y="236" width="4" height="1" fill="#808080"/>
<text filter="url(#bin)" x="690.4" y="241.0" font-size="12.5" fill="#00ffff" textLength="11.7" lengthAdjust="spacingAndGlyphs">40</text>
<rect x="685" y="265" width="4" height="1" fill="#808080"/>
<text filter="url(#bin)" x="690.4" y="270.0" font-size="12.5" fill="#00ffff" textLength="11.7" lengthAdjust="spacingAndGlyphs">30</text>
<rect x="685" y="294" width="4" height="1" fill="#808080"/>
<text filter="url(#bin)" x="690.4" y="299.0" font-size="12.5" fill="#00ffff" textLength="11.7" lengthAdjust="spacingAndGlyphs">20</text>
<rect x="685" y="323" width="4" height="1" fill="#808080"/>
<text filter="url(#bin)" x="690.4" y="328.0" font-size="12.5" fill="#00ffff" textLength="11.7" lengthAdjust="spacingAndGlyphs">10</text>
<rect x="685" y="352" width="4" height="1" fill="#808080"/>
<text filter="url(#bin)" x="690.4" y="357.0" font-size="12.5" fill="#00ffff" textLength="5.8" lengthAdjust="spacingAndGlyphs">0</text>
<rect x="721" y="62" width="1" height="291" fill="#808080"/>
<rect x="717" y="62" width="9" height="1" fill="#808080"/>
<rect x="717" y="352" width="9" height="1" fill="#808080"/>
<text filter="url(#bin)" x="727.5" y="67.0" font-size="12.5" fill="#0000ff" textLength="14.5" lengthAdjust="spacingAndGlyphs">5.0</text>
<rect x="721" y="120" width="4" height="1" fill="#808080"/>
<text filter="url(#bin)" x="727.5" y="125.0" font-size="12.5" fill="#0000ff" textLength="14.5" lengthAdjust="spacingAndGlyphs">4.0</text>
<rect x="721" y="178" width="4" height="1" fill="#808080"/>
<text filter="url(#bin)" x="727.5" y="183.0" font-size="12.5" fill="#0000ff" textLength="14.5" lengthAdjust="spacingAndGlyphs">3.0</text>
<rect x="721" y="236" width="4" height="1" fill="#808080"/>
<text filter="url(#bin)" x="727.5" y="241.0" font-size="12.5" fill="#0000ff" textLength="14.5" lengthAdjust="spacingAndGlyphs">2.0</text>
<rect x="721" y="294" width="4" height="1" fill="#808080"/>
<text filter="url(#bin)" x="727.5" y="299.0" font-size="12.5" fill="#0000ff" textLength="14.5" lengthAdjust="spacingAndGlyphs">1.0</text>
<text filter="url(#bin)" x="727.5" y="357.0" font-size="12.5" fill="#0000ff" textLength="14.5" lengthAdjust="spacingAndGlyphs">0.0</text>
<rect x="758" y="62" width="1" height="291" fill="#808080"/>
<rect x="754" y="62" width="9" height="1" fill="#808080"/>
<rect x="754" y="352" width="8" height="1" fill="#808080"/>
<text filter="url(#bin)" x="764.5" y="67.0" font-size="12.5" fill="#808080" textLength="18.0" lengthAdjust="spacingAndGlyphs">360</text>
<text filter="url(#bin)" x="785.5" y="67.0" font-size="12.5" fill="#808080" textLength="6.5" lengthAdjust="spacingAndGlyphs">N</text>
<rect x="758" y="86" width="4" height="1" fill="#808080"/>
<text filter="url(#bin)" x="764.5" y="91.0" font-size="12.5" fill="#808080" textLength="18.0" lengthAdjust="spacingAndGlyphs">330</text>
<rect x="758" y="110" width="4" height="1" fill="#808080"/>
<text filter="url(#bin)" x="764.5" y="115.0" font-size="12.5" fill="#808080" textLength="18.0" lengthAdjust="spacingAndGlyphs">300</text>
<rect x="758" y="134" width="4" height="1" fill="#808080"/>
<text filter="url(#bin)" x="764.5" y="139.0" font-size="12.5" fill="#808080" textLength="18.0" lengthAdjust="spacingAndGlyphs">270</text>
<text filter="url(#bin)" x="784.3" y="139.0" font-size="12.5" fill="#808080" textLength="11.6" lengthAdjust="spacingAndGlyphs">W</text>
<rect x="758" y="159" width="4" height="1" fill="#808080"/>
<text filter="url(#bin)" x="764.5" y="164.0" font-size="12.5" fill="#808080" textLength="18.0" lengthAdjust="spacingAndGlyphs">240</text>
<rect x="758" y="183" width="4" height="1" fill="#808080"/>
<text filter="url(#bin)" x="764.5" y="188.0" font-size="12.5" fill="#808080" textLength="18.0" lengthAdjust="spacingAndGlyphs">210</text>
<rect x="758" y="207" width="4" height="1" fill="#808080"/>
<text filter="url(#bin)" x="764.5" y="212.0" font-size="12.5" fill="#808080" textLength="18.0" lengthAdjust="spacingAndGlyphs">180</text>
<text filter="url(#bin)" x="785.5" y="212.0" font-size="12.5" fill="#808080" textLength="6.1" lengthAdjust="spacingAndGlyphs">S</text>
<rect x="758" y="231" width="4" height="1" fill="#808080"/>
<text filter="url(#bin)" x="764.5" y="236.0" font-size="12.5" fill="#808080" textLength="18.0" lengthAdjust="spacingAndGlyphs">150</text>
<rect x="758" y="255" width="4" height="1" fill="#808080"/>
<text filter="url(#bin)" x="764.5" y="260.0" font-size="12.5" fill="#808080" textLength="18.0" lengthAdjust="spacingAndGlyphs">120</text>
<rect x="758" y="280" width="4" height="1" fill="#808080"/>
<text filter="url(#bin)" x="764.5" y="285.0" font-size="12.5" fill="#808080" textLength="11.8" lengthAdjust="spacingAndGlyphs">90</text>
<text filter="url(#bin)" x="783.0" y="285.0" font-size="12.5" fill="#808080" textLength="6.5" lengthAdjust="spacingAndGlyphs">O</text>
<rect x="758" y="304" width="4" height="1" fill="#808080"/>
<text filter="url(#bin)" x="764.5" y="309.0" font-size="12.5" fill="#808080" textLength="11.8" lengthAdjust="spacingAndGlyphs">60</text>
<rect x="758" y="328" width="4" height="1" fill="#808080"/>
<text filter="url(#bin)" x="764.5" y="333.0" font-size="12.5" fill="#808080" textLength="11.8" lengthAdjust="spacingAndGlyphs">30</text>
<text filter="url(#bin)" x="764.5" y="357.0" font-size="12.5" fill="#808080" textLength="5.8" lengthAdjust="spacingAndGlyphs">0</text>
<text filter="url(#bin)" x="783.0" y="357.0" font-size="12.5" fill="#808080" textLength="6.5" lengthAdjust="spacingAndGlyphs">N</text>
<rect x="289" y="351" width="2" height="10" fill="#ffff00"/>
<rect x="588" y="348" width="2" height="13" fill="#ffff00"/>
<g stroke="#ffffa8" stroke-width="1.2" fill="none"><line x1="285" y1="373" x2="287" y2="375"/><line x1="295" y1="373" x2="293" y2="375"/><line x1="285" y1="383" x2="287" y2="381"/><line x1="295" y1="383" x2="293" y2="381"/><circle cx="290" cy="378" r="5.2" stroke-dasharray="2.2 1.9"/></g>
<g fill="#ffffa8"><rect x="289" y="372" width="2" height="2"/><rect x="289" y="382" width="2" height="2"/><rect x="284" y="377" width="2" height="2"/><rect x="294" y="377" width="2" height="2"/></g>
<circle cx="290" cy="378" r="3.1" fill="#ffff00"/>
<rect x="586.5" y="375.5" width="5" height="5" fill="none" stroke="#ffff70" stroke-width="1"/>
<text filter="url(#bin)" x="10.9" y="382.0" font-size="12.5" fill="#000" textLength="26.2" lengthAdjust="spacingAndGlyphs">12:35</text>
<path d="M40,381 L40,379.5 A4.5,4.8 0 0 1 49,379.5 L49,381 Z" fill="#ffff00"/>
<rect x="1" y="385" width="800" height="80" fill="#cdf8f5"/>
<rect x="87" y="385" width="1" height="80" fill="#ffffff"/>
<rect x="88" y="385" width="1" height="80" fill="#a0a0a0"/>
<rect x="204" y="385" width="1" height="80" fill="#ffffff"/>
<rect x="205" y="385" width="1" height="80" fill="#a0a0a0"/>
<rect x="322" y="385" width="1" height="80" fill="#ffffff"/>
<rect x="323" y="385" width="1" height="80" fill="#a0a0a0"/>
<rect x="440" y="385" width="1" height="80" fill="#ffffff"/>
<rect x="441" y="385" width="1" height="80" fill="#a0a0a0"/>
<rect x="558" y="385" width="1" height="80" fill="#ffffff"/>
<rect x="559" y="385" width="1" height="80" fill="#a0a0a0"/>
<rect x="676" y="385" width="1" height="80" fill="#ffffff"/>
<rect x="677" y="385" width="1" height="80" fill="#a0a0a0"/>
<rect x="794" y="385" width="1" height="80" fill="#ffffff"/>
<rect x="795" y="385" width="1" height="80" fill="#a0a0a0"/>
<rect x="801" y="384" width="1" height="81" fill="#a0a0a0"/>
<rect x="1" y="385" width="1" height="80" fill="#e6fcfa"/>
<text filter="url(#bin)" x="8.6" y="403.0" font-size="12.5" fill="#000" font-weight="bold" textLength="38.3" lengthAdjust="spacingAndGlyphs">Sensor</text>
<text filter="url(#bin)" x="8.8" y="419.0" font-size="12.5" fill="#000" font-weight="bold" textLength="46.2" lengthAdjust="spacingAndGlyphs">MinWert</text>
<text filter="url(#bin)" x="8.8" y="435.0" font-size="12.5" fill="#000" font-weight="bold" textLength="49.0" lengthAdjust="spacingAndGlyphs">MaxWert</text>
<text filter="url(#bin)" x="8.8" y="451.0" font-size="12.5" fill="#000" font-weight="bold" textLength="71.4" lengthAdjust="spacingAndGlyphs">Durchschnitt</text>
<text filter="url(#bin)" x="8.8" y="467.0" font-size="12.5" fill="#000" font-weight="bold" textLength="71.4" lengthAdjust="spacingAndGlyphs">27.03.  23:55</text>
<text filter="url(#bin)" x="95.4" y="403.0" font-size="12.5" fill="#000" font-weight="bold" textLength="49.2" lengthAdjust="spacingAndGlyphs">Temp. A.</text>
<text filter="url(#bin)" x="198.6" y="403.0" font-size="12.5" fill="#000" font-weight="bold" textLength="12.1" lengthAdjust="spacingAndGlyphs" text-anchor="end">°C</text>
<text filter="url(#bin)" x="100.4" y="419.0" font-size="12.5" fill="#000" textLength="26.5" lengthAdjust="spacingAndGlyphs">07:20</text>
<text filter="url(#bin)" x="198.6" y="419.0" font-size="12.5" fill="#000" textLength="14.6" lengthAdjust="spacingAndGlyphs" text-anchor="end">1.5</text>
<text filter="url(#bin)" x="100.4" y="435.0" font-size="12.5" fill="#000" textLength="26.5" lengthAdjust="spacingAndGlyphs">16:30</text>
<text filter="url(#bin)" x="198.6" y="435.0" font-size="12.5" fill="#000" textLength="20.4" lengthAdjust="spacingAndGlyphs" text-anchor="end">19.6</text>
<text filter="url(#bin)" x="198.6" y="451.0" font-size="12.5" fill="#000" textLength="20.4" lengthAdjust="spacingAndGlyphs" text-anchor="end">9.52</text>
<text filter="url(#bin)" x="198.6" y="467.0" font-size="12.5" fill="#000" font-weight="bold" textLength="17.9" lengthAdjust="spacingAndGlyphs" text-anchor="end">4.7</text>
<text filter="url(#bin)" x="212.4" y="403.0" font-size="12.5" fill="#000" font-weight="bold" textLength="60.8" lengthAdjust="spacingAndGlyphs">Feuchte A.</text>
<text filter="url(#bin)" x="316.6" y="403.0" font-size="12.5" fill="#000" font-weight="bold" textLength="8.3" lengthAdjust="spacingAndGlyphs" text-anchor="end">%</text>
<text filter="url(#bin)" x="217.9" y="419.0" font-size="12.5" fill="#000" textLength="26.5" lengthAdjust="spacingAndGlyphs">17:50</text>
<text filter="url(#bin)" x="316.6" y="419.0" font-size="12.5" fill="#000" textLength="12.1" lengthAdjust="spacingAndGlyphs" text-anchor="end">54</text>
<text filter="url(#bin)" x="217.9" y="435.0" font-size="12.5" fill="#000" textLength="26.5" lengthAdjust="spacingAndGlyphs">08:20</text>
<text filter="url(#bin)" x="316.6" y="435.0" font-size="12.5" fill="#000" textLength="12.1" lengthAdjust="spacingAndGlyphs" text-anchor="end">81</text>
<text filter="url(#bin)" x="316.6" y="451.0" font-size="12.5" fill="#000" textLength="12.1" lengthAdjust="spacingAndGlyphs" text-anchor="end">71</text>
<text filter="url(#bin)" x="215.2" y="467.0" font-size="12.5" fill="#000" textLength="45.6" lengthAdjust="spacingAndGlyphs">4.80 g/m³</text>
<text filter="url(#bin)" x="316.6" y="467.0" font-size="12.5" fill="#000" font-weight="bold" textLength="13.2" lengthAdjust="spacingAndGlyphs" text-anchor="end">72</text>
<text filter="url(#bin)" x="330.4" y="403.0" font-size="12.5" fill="#000" font-weight="bold" textLength="53.0" lengthAdjust="spacingAndGlyphs">Luftdruck</text>
<text filter="url(#bin)" x="434.6" y="403.0" font-size="12.5" fill="#000" font-weight="bold" textLength="21.5" lengthAdjust="spacingAndGlyphs" text-anchor="end">hPa</text>
<text filter="url(#bin)" x="335.9" y="419.0" font-size="12.5" fill="#000" textLength="26.5" lengthAdjust="spacingAndGlyphs">17:35</text>
<text filter="url(#bin)" x="434.6" y="419.0" font-size="12.5" fill="#000" textLength="32.3" lengthAdjust="spacingAndGlyphs" text-anchor="end">1023.2</text>
<text filter="url(#bin)" x="335.9" y="435.0" font-size="12.5" fill="#000" textLength="26.5" lengthAdjust="spacingAndGlyphs">08:15</text>
<text filter="url(#bin)" x="434.6" y="435.0" font-size="12.5" fill="#000" textLength="32.3" lengthAdjust="spacingAndGlyphs" text-anchor="end">1030.1</text>
<text filter="url(#bin)" x="330.6" y="451.0" font-size="12.5" fill="#000" textLength="50.1" lengthAdjust="spacingAndGlyphs">^3.2hPa/h</text>
<text filter="url(#bin)" x="434.6" y="451.0" font-size="12.5" fill="#000" textLength="32.3" lengthAdjust="spacingAndGlyphs" text-anchor="end">1026.5</text>
<text filter="url(#bin)" x="330.4" y="467.0" font-size="12.5" fill="#000" textLength="64.9" lengthAdjust="spacingAndGlyphs">leicht bewölkt</text>
<text filter="url(#bin)" x="434.6" y="467.0" font-size="12.5" fill="#000" font-weight="bold" textLength="38.1" lengthAdjust="spacingAndGlyphs" text-anchor="end">1026.3</text>
<text filter="url(#bin)" x="448.4" y="403.0" font-size="12.5" fill="#000" font-weight="bold" textLength="28.8" lengthAdjust="spacingAndGlyphs">Wind</text>
<text filter="url(#bin)" x="552.6" y="403.0" font-size="12.5" fill="#000" font-weight="bold" textLength="28.6" lengthAdjust="spacingAndGlyphs" text-anchor="end">km/h</text>
<text filter="url(#bin)" x="448.4" y="419.0" font-size="12.5" fill="#000" textLength="43.7" lengthAdjust="spacingAndGlyphs">Ø 10 min.</text>
<text filter="url(#bin)" x="552.6" y="419.0" font-size="12.5" fill="#000" textLength="13.3" lengthAdjust="spacingAndGlyphs" text-anchor="end">0.1</text>
<text filter="url(#bin)" x="453.9" y="435.0" font-size="12.5" fill="#000" textLength="26.5" lengthAdjust="spacingAndGlyphs">13:25</text>
<text filter="url(#bin)" x="552.6" y="435.0" font-size="12.5" fill="#000" textLength="31.2" lengthAdjust="spacingAndGlyphs" text-anchor="end">SO 6.1</text>
<text filter="url(#bin)" x="552.6" y="451.0" font-size="12.5" fill="#000" textLength="14.4" lengthAdjust="spacingAndGlyphs" text-anchor="end">1.5</text>
<text filter="url(#bin)" x="454.5" y="467.0" font-size="12.5" fill="#000" textLength="48.0" lengthAdjust="spacingAndGlyphs">0 Bft S-SO</text>
<text filter="url(#bin)" x="552.6" y="467.0" font-size="12.5" fill="#000" font-weight="bold" textLength="17.7" lengthAdjust="spacingAndGlyphs" text-anchor="end">0.2</text>
<text filter="url(#bin)" x="566.4" y="403.0" font-size="12.5" fill="#000" font-weight="bold" textLength="50.8" lengthAdjust="spacingAndGlyphs">Richtung</text>
<text filter="url(#bin)" x="572.5" y="419.0" font-size="12.5" fill="#000" textLength="26.5" lengthAdjust="spacingAndGlyphs">08:40</text>
<text filter="url(#bin)" x="670.6" y="419.0" font-size="12.5" fill="#000" textLength="26.2" lengthAdjust="spacingAndGlyphs" text-anchor="end">N-NO</text>
<text filter="url(#bin)" x="572.5" y="435.0" font-size="12.5" fill="#000" textLength="26.5" lengthAdjust="spacingAndGlyphs">08:50</text>
<text filter="url(#bin)" x="670.6" y="435.0" font-size="12.5" fill="#000" textLength="6.6" lengthAdjust="spacingAndGlyphs" text-anchor="end">N</text>
<text filter="url(#bin)" x="670.6" y="451.0" font-size="12.5" fill="#000" textLength="24.0" lengthAdjust="spacingAndGlyphs" text-anchor="end">S-SO</text>
<text filter="url(#bin)" x="569.2" y="467.0" font-size="12.5" fill="#000" textLength="24.9" lengthAdjust="spacingAndGlyphs">157 °</text>
<text filter="url(#bin)" x="670.6" y="467.0" font-size="12.5" fill="#000" font-weight="bold" textLength="27.8" lengthAdjust="spacingAndGlyphs" text-anchor="end">S-SO</text>
<text filter="url(#bin)" x="684.4" y="403.0" font-size="12.5" fill="#000" font-weight="bold" textLength="56.3" lengthAdjust="spacingAndGlyphs">Windböen</text>
<text filter="url(#bin)" x="788.6" y="403.0" font-size="12.5" fill="#000" font-weight="bold" textLength="28.6" lengthAdjust="spacingAndGlyphs" text-anchor="end">km/h</text>
<text filter="url(#bin)" x="684.4" y="419.0" font-size="12.5" fill="#000" textLength="43.7" lengthAdjust="spacingAndGlyphs">Ø 10 min.</text>
<text filter="url(#bin)" x="788.6" y="419.0" font-size="12.5" fill="#000" textLength="14.4" lengthAdjust="spacingAndGlyphs" text-anchor="end">0.9</text>
<text filter="url(#bin)" x="689.9" y="435.0" font-size="12.5" fill="#000" textLength="26.5" lengthAdjust="spacingAndGlyphs">13:20</text>
<text filter="url(#bin)" x="788.6" y="435.0" font-size="12.5" fill="#000" textLength="50.5" lengthAdjust="spacingAndGlyphs" text-anchor="end">O-NO 15.0</text>
<text filter="url(#bin)" x="788.6" y="451.0" font-size="12.5" fill="#000" textLength="14.4" lengthAdjust="spacingAndGlyphs" text-anchor="end">2.3</text>
<text filter="url(#bin)" x="690.5" y="467.0" font-size="12.5" fill="#000" textLength="48.0" lengthAdjust="spacingAndGlyphs">0 Bft S-SO</text>
<text filter="url(#bin)" x="788.6" y="467.0" font-size="12.5" fill="#000" font-weight="bold" textLength="16.5" lengthAdjust="spacingAndGlyphs" text-anchor="end">0.0</text>
<text filter="url(#bin)" x="804.0" y="42.0" font-size="12.5" fill="#ff6464" textLength="5.0" lengthAdjust="spacingAndGlyphs">T</text>
<rect x="802" y="47" width="8" height="2" fill="#808080"/>
<rect x="804" y="127" width="3" height="1" fill="#646464"/>
<polyline points="802.0,146.0 805.0,147.5 810.0,147.0" fill="none" stroke="#ff6a6a" stroke-width="2" stroke-linejoin="round" stroke-linecap="round"/>
<rect x="804" y="207" width="3" height="1" fill="#646464"/>
<polyline points="803.0,220.0 810.0,221.0" fill="none" stroke="#ff0000" stroke-width="3" stroke-linejoin="round" stroke-linecap="round"/>
<polyline points="803.0,220.0 803.0,242.0 810.0,242.0" fill="none" stroke="#00ff00" stroke-width="3" stroke-linejoin="round" stroke-linecap="round"/>
<rect x="804" y="287" width="3" height="1" fill="#646464"/>
<polyline points="803.0,337.0 806.0,332.0 810.0,330.0" fill="none" stroke="#00ffff" stroke-width="3" stroke-linejoin="round" stroke-linecap="round"/>
<polyline points="803.0,369.0 806.0,366.0 810.0,365.0" fill="none" stroke="#ffff00" stroke-width="3" stroke-linejoin="round" stroke-linecap="round"/>
<rect x="806" y="378" width="4" height="2" fill="#00ff00"/>
<rect x="805" y="447" width="3" height="1" fill="#646464"/>
</svg>
</body></html>
